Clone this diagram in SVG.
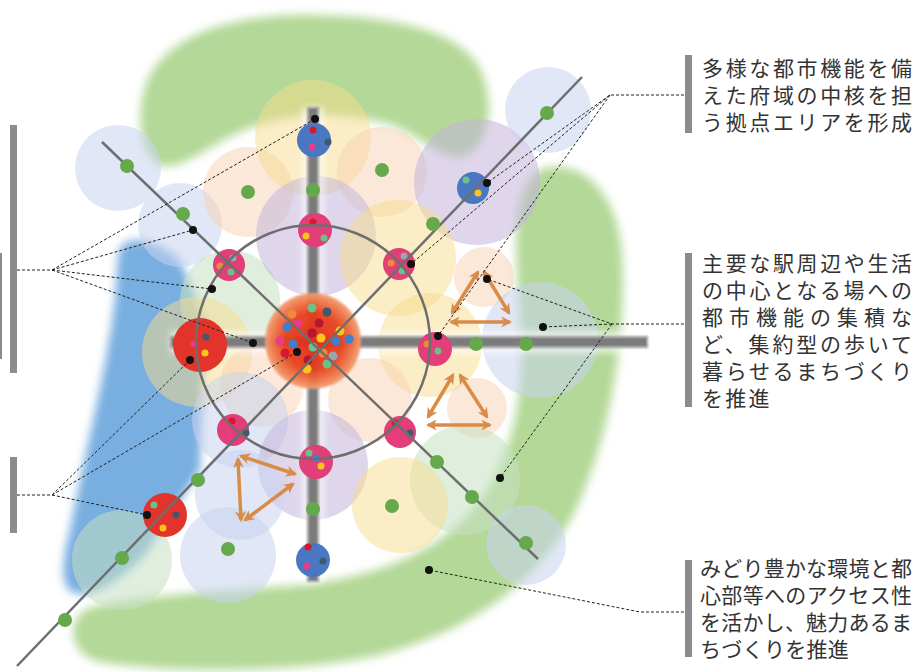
<svg xmlns="http://www.w3.org/2000/svg" width="919" height="672" viewBox="0 0 919 672">
<defs>
<style>
.lb{fill:#c9d3ee;fill-opacity:.55}
.pe{fill:#f8d2b2;fill-opacity:.5}
.ye{fill:#f8dc8c;fill-opacity:.5}
.pu{fill:#c4b5dc;fill-opacity:.55}
.mi{fill:#c6e0c2;fill-opacity:.55}
.gd{fill:#66a84c}
.thin{stroke:#6e6e6e;stroke-width:2.5;fill:none}
.ld{stroke:#222;stroke-width:1;stroke-dasharray:3 2;fill:none}
.bd{fill:#111}
.arr{stroke:#d98b4a;stroke-width:3.5;fill:none;marker-start:url(#ah);marker-end:url(#ah)}
.pk{fill:#e23e78}
.rd{fill:#e3342b}
.bl{fill:#4a77c2}
.bar{fill:#8c8c8c}
.tx{font-family:"Noto Sans CJK JP","Noto Sans",sans-serif;font-size:21px;fill:#333}
.c-gr{fill:#6cc08a}.c-sl{fill:#3f5a6e}.c-or{fill:#ee8a3a}.c-pk{fill:#ec3a86}.c-dr{fill:#b5182c}
.c-bl{fill:#3d7fd0}.c-ye{fill:#f9c51c}.c-gy{fill:#9aa5b0}.c-re{fill:#d8182c}
</style>
<filter id="b5" x="-20%" y="-20%" width="140%" height="140%"><feGaussianBlur stdDeviation="5"/></filter>
<filter id="b3" x="-20%" y="-20%" width="140%" height="140%"><feGaussianBlur stdDeviation="3"/></filter>
<filter id="b1" x="-20%" y="-20%" width="140%" height="140%"><feGaussianBlur stdDeviation="1"/></filter>
<radialGradient id="cg" cx="0.5" cy="0.5" r="0.5">
<stop offset="0" stop-color="#e42a1c"/>
<stop offset="0.6" stop-color="#e8401f"/>
<stop offset="0.85" stop-color="#ef7a4a"/>
<stop offset="1" stop-color="#f3a27a"/>
</radialGradient>
<marker id="ah" viewBox="0 0 10 10" refX="8" refY="5" markerWidth="11" markerHeight="11" markerUnits="userSpaceOnUse" orient="auto-start-reverse">
<path d="M0,0 L10,5 L0,10 L3,5 z" fill="#d98b4a"/>
</marker>
</defs>

<g id="background">
<path filter="url(#b5)" fill="#b3d897" d="M158,165 C138,150 135,105 150,75 C175,30 240,15 305,15 C385,15 455,28 478,65 C495,95 492,140 468,155 C445,165 420,135 392,125 C345,112 290,112 250,128 C210,142 185,172 158,165 Z"/>
<path filter="url(#b5)" fill="#b3d897" d="M545,168 C585,160 618,195 622,255 C627,330 612,430 578,505 C545,575 480,628 380,655 C290,675 160,672 100,662 C72,656 64,625 85,610 C120,596 210,592 300,585 C385,576 445,548 482,498 C515,450 525,390 520,320 C516,255 508,180 545,168 Z"/>
<path filter="url(#b5)" fill="#78aee0" d="M125,243 C140,235 165,245 180,260 L205,320 L200,470 L145,555 C118,582 90,600 72,592 C60,585 62,560 70,530 C85,450 105,380 115,300 C118,270 115,250 125,243 Z"/>
</g>

<g id="areas">
<circle class="lb" cx="118" cy="168" r="43"/>
<circle class="lb" cx="180" cy="225" r="42"/>
<circle class="pe" cx="248" cy="192" r="45"/>
<circle class="ye" cx="313" cy="138" r="58"/>
<circle class="pe" cx="382" cy="172" r="45"/>
<circle class="pu" cx="477" cy="182" r="63"/>
<circle class="lb" cx="548" cy="110" r="43"/>
<circle class="mi" cx="230" cy="300" r="50"/>
<circle class="pu" cx="316" cy="236" r="60"/>
<circle class="ye" cx="398" cy="258" r="58"/>
<circle class="pe" cx="484" cy="277" r="30"/>
<circle class="lb" cx="540" cy="340" r="58"/>
<circle class="ye" cx="430" cy="345" r="52"/>
<circle class="ye" cx="197" cy="352" r="55"/>
<circle class="pe" cx="262" cy="385" r="42"/>
<circle class="pe" cx="370" cy="400" r="42"/>
<circle class="pe" cx="477" cy="408" r="30"/>
<circle class="lb" cx="240" cy="420" r="48"/>
<circle class="pu" cx="313" cy="465" r="55"/>
<circle class="mi" cx="465" cy="480" r="55"/>
<circle class="ye" cx="400" cy="505" r="48"/>
<circle class="lb" cx="240" cy="495" r="45"/>
<circle class="lb" cx="228" cy="555" r="48"/>
<circle class="mi" cx="122" cy="560" r="50"/>
<circle class="lb" cx="526" cy="545" r="40"/>
</g>

<g id="main-roads">
<path d="M313,107 V582 M170,342 H648" stroke="#ffffff" stroke-opacity=".6" stroke-width="22" filter="url(#b3)" fill="none"/>
<path d="M313,107 V582 M170,342 H648" stroke="#9a9a9a" stroke-width="12" filter="url(#b1)" fill="none"/>
<path d="M313,109 V580 M172,342 H646" stroke="#7b7b7b" stroke-width="7" fill="none"/>
</g>

<g id="hub-center">
<circle cx="313" cy="341" r="48" fill="url(#cg)" filter="url(#b1)" opacity=".95"/>
<circle class="c-gr" cx="312" cy="308" r="4.5"/><circle class="c-sl" cx="327" cy="312" r="4.5"/>
<circle class="c-or" cx="292" cy="314" r="4.5"/><circle class="c-pk" cx="298" cy="323" r="4.5"/>
<circle class="c-dr" cx="319" cy="323" r="4.5"/><circle class="c-bl" cx="287" cy="327" r="4.5"/>
<circle class="c-dr" cx="312" cy="333" r="4.5"/><circle class="c-ye" cx="340" cy="331" r="4.5"/>
<circle class="c-ye" cx="321" cy="338" r="4.5"/><circle class="c-bl" cx="336" cy="341" r="4.5"/>
<circle class="c-bl" cx="349" cy="339" r="4.5"/><circle class="c-pk" cx="280" cy="341" r="4.5"/>
<circle class="c-bl" cx="293" cy="344" r="4.5"/><circle class="c-gr" cx="313" cy="347" r="4.5"/>
<circle class="c-re" cx="285" cy="353" r="4.5"/><circle class="c-or" cx="323" cy="353" r="4.5"/>
<circle class="c-gy" cx="333" cy="356" r="4.5"/><circle class="c-dr" cx="308" cy="360" r="4.5"/>
<circle class="c-gr" cx="327" cy="364" r="4.5"/><circle class="c-ye" cx="307" cy="369" r="4.5"/>
</g>
<g id="hub-n"><circle class="pk" cx="315" cy="230" r="17"/><circle class="c-re" cx="313" cy="222" r="3.5"/><circle class="c-ye" cx="306" cy="236" r="3.5"/><circle class="c-gr" cx="324" cy="238" r="3.5"/></g>
<g id="hub-nw"><circle class="pk" cx="229" cy="265" r="16"/><circle class="c-gy" cx="233" cy="258" r="3.5"/><circle class="c-or" cx="220" cy="266" r="3.5"/><circle class="c-gr" cx="231" cy="272" r="3.5"/></g>
<g id="hub-ne"><circle class="pk" cx="399" cy="264" r="16"/><circle class="c-gy" cx="404" cy="256" r="3.5"/><circle class="c-or" cx="391" cy="263" r="3.5"/><circle class="c-gr" cx="402" cy="271" r="3.5"/></g>
<g id="hub-e"><circle class="pk" cx="435" cy="349" r="17"/><circle class="c-or" cx="427" cy="344" r="3.5"/><circle class="c-gr" cx="438" cy="351" r="3.5"/></g>
<g id="hub-se"><circle class="pk" cx="400" cy="432" r="16"/><circle class="c-re" cx="395" cy="423" r="3.5"/><circle class="c-pk" cx="394" cy="439" r="3.5"/><circle class="c-sl" cx="410" cy="433" r="3.5"/></g>
<g id="hub-s"><circle class="pk" cx="316" cy="462" r="17"/><circle class="c-gr" cx="309" cy="453" r="3.5"/><circle class="c-bl" cx="316" cy="458" r="3.5"/><circle class="c-ye" cx="321" cy="466" r="3.5"/></g>
<g id="hub-sw"><circle class="pk" cx="233" cy="430" r="16"/><circle class="c-re" cx="232" cy="421" r="3.5"/><circle class="c-pk" cx="230" cy="437" r="3.5"/><circle class="c-sl" cx="246" cy="433" r="3.5"/></g>
<g id="hub-w"><circle class="rd" cx="200" cy="345" r="27"/><circle class="c-sl" cx="206" cy="337" r="3.5"/><circle class="c-pk" cx="194" cy="344" r="3.5"/><circle class="c-ye" cx="205" cy="353" r="3.5"/></g>
<g id="hub-sw2"><circle class="rd" cx="165" cy="515" r="22"/><circle class="c-gr" cx="154" cy="505" r="3.5"/><circle class="c-sl" cx="176" cy="515" r="3.5"/><circle class="c-ye" cx="163" cy="528" r="3.5"/></g>
<g id="hub-n2"><circle class="bl" cx="314" cy="140" r="17"/><circle class="c-re" cx="313" cy="130" r="3.5"/><circle class="c-pk" cx="312" cy="147" r="3.5"/><circle class="c-sl" cx="328" cy="142" r="3.5"/></g>
<g id="hub-ne2"><circle class="bl" cx="473" cy="188" r="16"/><circle class="c-gr" cx="466" cy="180" r="3.5"/><circle class="c-ye" cx="478" cy="193" r="3.5"/></g>
<g id="hub-s2"><circle class="bl" cx="313" cy="560" r="17"/><circle class="c-re" cx="308" cy="547" r="3.5"/><circle class="c-sl" cx="323" cy="561" r="3.5"/><circle class="c-pk" cx="307" cy="566" r="3.5"/></g>

<g id="rail-lines">
<circle class="thin" cx="313" cy="342" r="117"/>
<line class="thin" x1="102" y1="142" x2="538" y2="559"/>
<line class="thin" x1="582" y1="77" x2="17" y2="666"/>
</g>

<g id="stations">
<circle class="gd" cx="127" cy="166" r="7"/><circle class="gd" cx="183" cy="214" r="7"/>
<circle class="gd" cx="248" cy="192" r="7"/><circle class="gd" cx="313" cy="190" r="7"/>
<circle class="gd" cx="382" cy="170" r="7"/><circle class="gd" cx="433" cy="224" r="7"/>
<circle class="gd" cx="547" cy="113" r="7"/><circle class="gd" cx="476" cy="344" r="7"/>
<circle class="gd" cx="526" cy="344" r="7"/><circle class="gd" cx="437" cy="462" r="7"/>
<circle class="gd" cx="472" cy="497" r="7"/><circle class="gd" cx="526" cy="543" r="7"/>
<circle class="gd" cx="392" cy="506" r="7"/><circle class="gd" cx="313" cy="509" r="7"/>
<circle class="gd" cx="228" cy="549" r="7"/><circle class="gd" cx="198" cy="480" r="7"/>
<circle class="gd" cx="122" cy="558" r="7"/><circle class="gd" cx="65" cy="620" r="7"/>
</g>

<g id="links">
<line class="arr" x1="452" y1="313" x2="478" y2="272"/>
<line class="arr" x1="484" y1="272" x2="509" y2="313"/>
<line class="arr" x1="451" y1="322" x2="510" y2="322"/>
<line class="arr" x1="428" y1="417" x2="453" y2="375"/>
<line class="arr" x1="460" y1="375" x2="487" y2="417"/>
<line class="arr" x1="428" y1="425" x2="490" y2="425"/>
<line class="arr" x1="241" y1="456" x2="295" y2="474"/>
<line class="arr" x1="238" y1="459" x2="241" y2="520"/>
<line class="arr" x1="245" y1="520" x2="293" y2="484"/>
</g>

<g id="leaders">
<path class="ld" d="M17,270 H52 L315,119 M52,270 L193,230 M52,270 L212,289 M52,270 L253,343"/>
<path class="ld" d="M17,495 H52 L190,360 M52,495 L297,352 M52,495 L147,515"/>
<path class="ld" d="M684,95 H610 L487,183 M610,95 L411,264 M610,95 L438,336"/>
<path class="ld" d="M684,324 H612 L487,279 M612,324 L543,327 M612,324 L500,478"/>
<path class="ld" d="M684,612 H640 L429,570"/>
<circle class="bd" cx="315" cy="119" r="4"/><circle class="bd" cx="193" cy="230" r="4"/>
<circle class="bd" cx="212" cy="289" r="4"/><circle class="bd" cx="253" cy="343" r="4"/>
<circle class="bd" cx="190" cy="360" r="4"/><circle class="bd" cx="297" cy="352" r="4"/>
<circle class="bd" cx="147" cy="515" r="4"/><circle class="bd" cx="487" cy="183" r="4"/>
<circle class="bd" cx="411" cy="264" r="4"/><circle class="bd" cx="438" cy="336" r="4"/>
<circle class="bd" cx="487" cy="279" r="4"/><circle class="bd" cx="543" cy="327" r="4"/>
<circle class="bd" cx="500" cy="478" r="4"/><circle class="bd" cx="429" cy="570" r="4"/>
</g>

<g id="labels">
<rect class="bar" x="10" y="125" width="7" height="248"/>
<rect class="bar" x="10" y="457" width="7" height="76"/>
<rect class="bar" x="0" y="253" width="2" height="106"/>
<rect class="bar" x="685" y="55" width="7" height="78"/>
<rect class="bar" x="685" y="253" width="7" height="154"/>
<rect class="bar" x="685" y="560" width="7" height="97"/>
<text class="tx" x="702" y="76" textLength="210" lengthAdjust="spacing">多様な都市機能を備</text>
<text class="tx" x="702" y="103" textLength="210" lengthAdjust="spacing">えた府域の中核を担</text>
<text class="tx" x="702" y="130" textLength="210" lengthAdjust="spacing">う拠点エリアを形成</text>
<text class="tx" x="702" y="271" textLength="210" lengthAdjust="spacing">主要な駅周辺や生活</text>
<text class="tx" x="702" y="298" textLength="210" lengthAdjust="spacing">の中心となる場への</text>
<text class="tx" x="702" y="325" textLength="210" lengthAdjust="spacing">都市機能の集積な</text>
<text class="tx" x="702" y="352" textLength="210" lengthAdjust="spacing">ど、集約型の歩いて</text>
<text class="tx" x="702" y="379" textLength="210" lengthAdjust="spacing">暮らせるまちづくり</text>
<text class="tx" x="702" y="406" letter-spacing="2.3">を推進</text>
<text class="tx" x="700" y="576" textLength="212" lengthAdjust="spacing">みどり豊かな環境と都</text>
<text class="tx" x="700" y="603" textLength="212" lengthAdjust="spacing">心部等へのアクセス性</text>
<text class="tx" x="700" y="630" textLength="212" lengthAdjust="spacing">を活かし、魅力あるま</text>
<text class="tx" x="700" y="657" letter-spacing="0.3">ちづくりを推進</text>
</g>
</svg>
